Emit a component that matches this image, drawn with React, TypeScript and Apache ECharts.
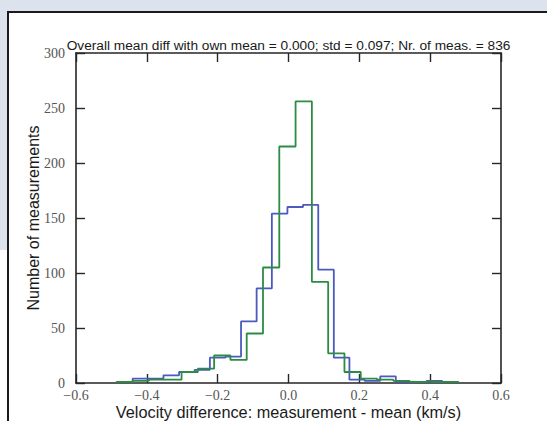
import React, { useEffect, useRef } from "react";
import * as echarts from "echarts";

// Bin edges (km/s) and counts
const blueEdges = [-0.44, -0.396, -0.353, -0.309, -0.265, -0.222, -0.178, -0.134, -0.09, -0.047, -0.003, 0.041, 0.084, 0.128, 0.172, 0.215, 0.259, 0.303, 0.346, 0.39, 0.434];
const blueCounts = [4, 4, 7, 10, 12, 23, 24, 56, 86, 154, 160, 162, 103, 23, 3, 2, 6, 1, 1, 2];

const greenEdges = [-0.486, -0.44, -0.394, -0.348, -0.302, -0.256, -0.21, -0.164, -0.118, -0.072, -0.026, 0.02, 0.066, 0.112, 0.158, 0.204, 0.25, 0.296, 0.342, 0.388, 0.434, 0.48];
const greenCounts = [1, 2, 3, 3, 10, 13, 25, 21, 45, 105, 215, 256, 92, 27, 10, 4, 3, 2, 1, 1, 1];

const xMin = -0.6;
const xMax = 0.6;
const xStep = 0.2;
const yMin = 0;
const yMax = 300;
const yStep = 50;

const titleText = "Overall mean diff with own mean = 0.000; std = 0.097; Nr. of meas. = 836";
const xName = "Velocity difference: measurement - mean (km/s)";
const yName = "Number of measurements";

function stepOutline(edges: number[], counts: number[]): number[][] {
  const pts: number[][] = [[edges[0], 0]];
  for (let i = 0; i < counts.length; i++) {
    pts.push([edges[i], counts[i]]);
    pts.push([edges[i + 1], counts[i]]);
  }
  pts.push([edges[edges.length - 1], 0]);
  return pts;
}

const fmtX = (v: number) => {
  if (Math.abs(v) < 1e-9) return "0.0";
  const s = Math.abs(v).toFixed(1);
  return v < 0 ? "\u2212" + s : s;
};

export default function App() {
  const ref = useRef<HTMLDivElement>(null);
  useEffect(() => {
    if (!ref.current) return;
    const chart = echarts.init(ref.current, undefined, { renderer: "svg" });
    const axisLine = { show: true, onZero: false, lineStyle: { color: "#262626", width: 1.6 } };
    const axisTick = { show: true, inside: true, length: 9, lineStyle: { color: "#262626", width: 1.4 } };
    const tickFont = { fontFamily: "Liberation Serif", fontSize: 14, lineHeight: 14, color: "#555" };
    chart.setOption({
      animation: false,
      backgroundColor: "transparent",
      grid: { left: 76, right: 46, top: 53, bottom: 38, containLabel: false, outerBoundsMode: "none" },
      graphic: [
        {
          type: "text",
          x: 288.5,
          y: 45,
          style: {
            text: titleText,
            fill: "#1a1a1a",
            font: "13.7px 'Liberation Sans', Arial, sans-serif",
            textAlign: "center",
            textVerticalAlign: "middle",
            align: "center",
            verticalAlign: "middle",
          },
        },
      ],
      xAxis: [
        {
          type: "value",
          position: "bottom",
          min: xMin,
          max: xMax,
          interval: xStep,
          axisLine,
          axisTick,
          splitLine: { show: false },
          axisLabel: { ...tickFont, margin: 5, formatter: fmtX },
          name: xName,
          nameLocation: "middle",
          nameGap: 20,
          nameMoveOverlap: false,
          nameTextStyle: { fontFamily: "Liberation Sans", fontSize: 16.3, color: "#1a1a1a", lineHeight: 17 },
        },
        {
          type: "value",
          position: "top",
          min: xMin,
          max: xMax,
          interval: xStep,
          axisLine,
          axisTick,
          splitLine: { show: false },
          axisLabel: { show: false },
        },
      ],
      yAxis: [
        {
          type: "value",
          position: "left",
          min: yMin,
          max: yMax,
          interval: yStep,
          axisLine,
          axisTick,
          splitLine: { show: false },
          axisLabel: { ...tickFont, margin: 11 },
          name: yName,
          nameLocation: "middle",
          nameGap: 35,
          nameMoveOverlap: false,
          nameTextStyle: { fontFamily: "Liberation Sans", fontSize: 16, color: "#1a1a1a", lineHeight: 16 },
        },
        {
          type: "value",
          position: "right",
          min: yMin,
          max: yMax,
          interval: yStep,
          axisLine,
          axisTick,
          splitLine: { show: false },
          axisLabel: { show: false },
        },
      ],
      series: [
        {
          type: "line",
          xAxisIndex: 0,
          yAxisIndex: 0,
          data: stepOutline(blueEdges, blueCounts),
          showSymbol: false,
          symbol: "none",
          lineStyle: { color: "#4a5abf", width: 1.8 },
          itemStyle: { color: "#4a5abf" },
          z: 2,
        },
        {
          type: "line",
          xAxisIndex: 0,
          yAxisIndex: 0,
          data: stepOutline(greenEdges, greenCounts),
          showSymbol: false,
          symbol: "none",
          lineStyle: { color: "#2c8c44", width: 1.8 },
          itemStyle: { color: "#2c8c44" },
          z: 3,
        },
      ],
    });
    return () => chart.dispose();
  }, []);

  return (
    <div style={{ position: "fixed", left: 0, top: 0, width: 547, height: 421, background: "#fff", overflow: "hidden" }}>
      <div style={{ position: "absolute", left: 0, top: 0, width: 547, height: 250, background: "#dde3ed" }} />
      <div
        style={{
          position: "absolute",
          left: 7,
          top: 11,
          width: 600,
          height: 450,
          background: "#fff",
          borderLeft: "2px solid #1a1a1a",
          borderTop: "2px solid #1a1a1a",
        }}
      />
      <div ref={ref} style={{ position: "absolute", left: 0, top: 0, width: 547, height: 421 }} />
    </div>
  );
}
